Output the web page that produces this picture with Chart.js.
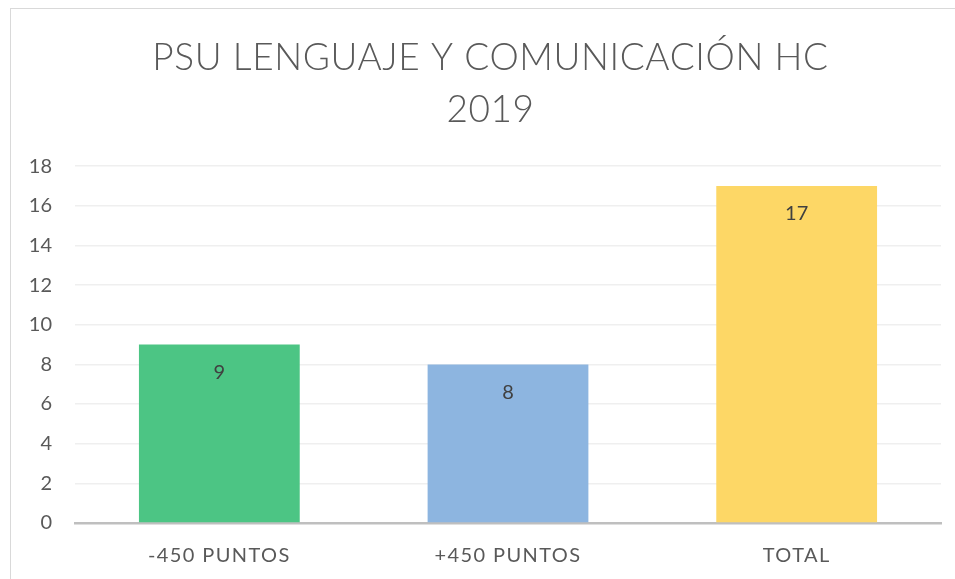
<!DOCTYPE html>
<html><head><meta charset="utf-8">
<script src="https://cdn.jsdelivr.net/npm/chart.js@4/dist/chart.umd.min.js"></script>
<style>
html,body{margin:0;padding:0;background:#fff;overflow:hidden}
#frame{position:absolute;left:10px;top:8px;width:1000px;height:700px;border:1px solid #d9d9d9;box-sizing:border-box}
#wrap{position:absolute;left:0;top:0;width:955px;height:579px}
</style></head>
<body>
<div id="frame"></div>
<div id="wrap"><canvas id="c" width="955" height="579"></canvas></div>
<script>
const categories = ["-450 PUNTOS", "+450 PUNTOS", "TOTAL"];
const values = [9, 8, 17];
const barColors = ["#4cc584", "#8db5e0", "#fdd766"];
const titleLines = ["PSU LENGUAJE Y COMUNICACIÓN HC", "2019"];
const yMin = 0, yMax = 18, yStep = 2;

const FONT = "Lato, 'Open Sans', sans-serif";

function spaced(obj, key, spacing, dx) {
  if (!obj || obj['__sp_' + key]) return;
  const orig = obj[key];
  obj[key] = function (...args) {
    const ctx = this.ctx;
    ctx.save();
    ctx.letterSpacing = spacing;
    if (dx) ctx.translate(dx, 0);
    const r = orig.apply(this, args);
    ctx.restore();
    return r;
  };
  obj['__sp_' + key] = true;
}

const valueLabels = {
  id: 'valueLabels',
  afterLayout(chart) {
    spaced(chart.titleBlock, 'draw', '0.6px', 15);
    spaced(chart.scales.x, 'drawLabels', '1.4px', 0);
  },
  afterDatasetsDraw(chart) {
    const ctx = chart.ctx;
    const meta = chart.getDatasetMeta(0);
    ctx.save();
    ctx.font = "20px " + FONT;
    ctx.fillStyle = "#404040";
    ctx.textAlign = "center";
    ctx.textBaseline = "middle";
    meta.data.forEach((bar, i) => {
      ctx.fillText(String(chart.data.datasets[0].data[i]), bar.x, bar.y + 28);
    });
    ctx.restore();
  }
};

new Chart(document.getElementById('c'), {
  type: 'bar',
  data: {
    labels: categories,
    datasets: [{
      data: values,
      backgroundColor: barColors,
      borderWidth: 0,
      barPercentage: 0.557,
      categoryPercentage: 1.0
    }]
  },
  options: {
    responsive: false,
    animation: false,
    devicePixelRatio: 1,
    layout: { padding: { left: 10, right: 14, top: 0, bottom: 11 } },
    plugins: {
      legend: { display: false },
      tooltip: { enabled: false },
      title: {
        display: true,
        text: titleLines,
        color: "#595959",
        font: { family: FONT, size: 37, weight: 300, lineHeight: 1.38 },
        padding: { top: 33, bottom: 31 }
      }
    },
    scales: {
      x: {
        afterFit(scale) { scale.height = 45; },
        grid: { display: false, drawTicks: false },
        border: { display: true, color: "#bfbfbf", width: 2.5 },
        ticks: { color: "#595959", font: { family: FONT, size: 20 }, padding: 21 }
      },
      y: {
        min: yMin, max: yMax,
        afterFit(scale) { scale.width = 65; },
        grid: { color: "#efefef", lineWidth: 1.5, drawTicks: false },
        border: { display: false },
        ticks: { stepSize: yStep, color: "#595959", font: { family: FONT, size: 20 }, padding: 23 }
      }
    }
  },
  plugins: [valueLabels]
});
</script>
</body></html>
